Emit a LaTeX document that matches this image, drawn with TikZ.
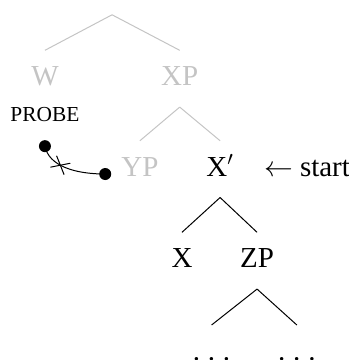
\documentclass[tikz,border=0pt]{standalone}
\usepackage{fontspec}
\setmainfont{Liberation Serif}
\usetikzlibrary{shapes.misc}
\definecolor{faint}{HTML}{C4C4C4}
\tikzset{
  cat/.style={inner xsep=1pt,inner ysep=8pt,text height=9.5pt,text depth=0pt,
    font=\fontsize{14.5}{17}\selectfont},
  faded/.style={text=faint},
  branch/.style={draw=black,line width=.5pt},
  fadedbranch/.style={branch,draw=faint},
  feature/.style={circle,fill=black,inner sep=0pt,minimum size=6pt},
  agree/.style={draw=black,line width=.5pt}
}
\newcommand{\wideldots}{.\kern3.9pt.\kern3.9pt.}

\begin{document}
\begin{tikzpicture}[x=1cm,y=-1cm]
  \useasboundingbox (0,0) rectangle (6.13,6.33);

  % Upper, faded part of the tree.
  \coordinate (root) at (1.97,0.26);
  \node[cat,faded] (w) at (0.79,1.34) {W};
  \node[cat,faded] (xp) at (3.16,1.34) {XP};
  \node[cat,faded] (yp) at (2.46,2.93) {YP};
  \draw[fadedbranch] (root) -- (w.north);
  \draw[fadedbranch] (root) -- (xp.north);
  \draw[fadedbranch] ([yshift=-2.5pt]xp.south) -- (yp.north);
  \draw[fadedbranch] ([yshift=-2.5pt]xp.south) -- (3.87,2.93|-yp.north);

  % Current node and what lies below it.
  \node[cat] (xbar) at (3.87,2.93) {X$'$};
  \node[cat,anchor=west] (start) at (4.60,2.93) {$\leftarrow$ start};
  \node[cat] (x) at (3.20,4.54) {X};
  \node[cat] (zp) at (4.52,4.54) {ZP};
  \node[cat] (zl) at (3.72,6.17) {\wideldots};
  \node[cat] (zr) at (5.22,6.17) {\wideldots};
  \draw[branch] ([yshift=-2.5pt]xbar.south) -- (x.north);
  \draw[branch] ([yshift=-2.5pt]xbar.south) -- (zp.north);
  \draw[branch] ([yshift=-2.5pt]zp.south) -- (zl.north);
  \draw[branch] ([yshift=-2.5pt]zp.south) -- (zr.north);

  % Blocked probe.
  \node[font=\fontsize{10.7}{13}\selectfont,inner sep=0pt] (probe) at (0.79,2.02) {PROBE};
  \node[feature] (pdot) at (0.79,2.57) {};
  \node[feature] (gdot) at (1.85,3.06) {};
  \draw[agree] (pdot.center) .. controls (0.86,2.92) and (1.32,3.06) .. (gdot.center)
    node[pos=.42,sloped,cross out,draw,line width=.5pt,inner sep=0pt,
      minimum width=7.3pt,minimum height=6pt] (block) {};
\end{tikzpicture}
\end{document}
